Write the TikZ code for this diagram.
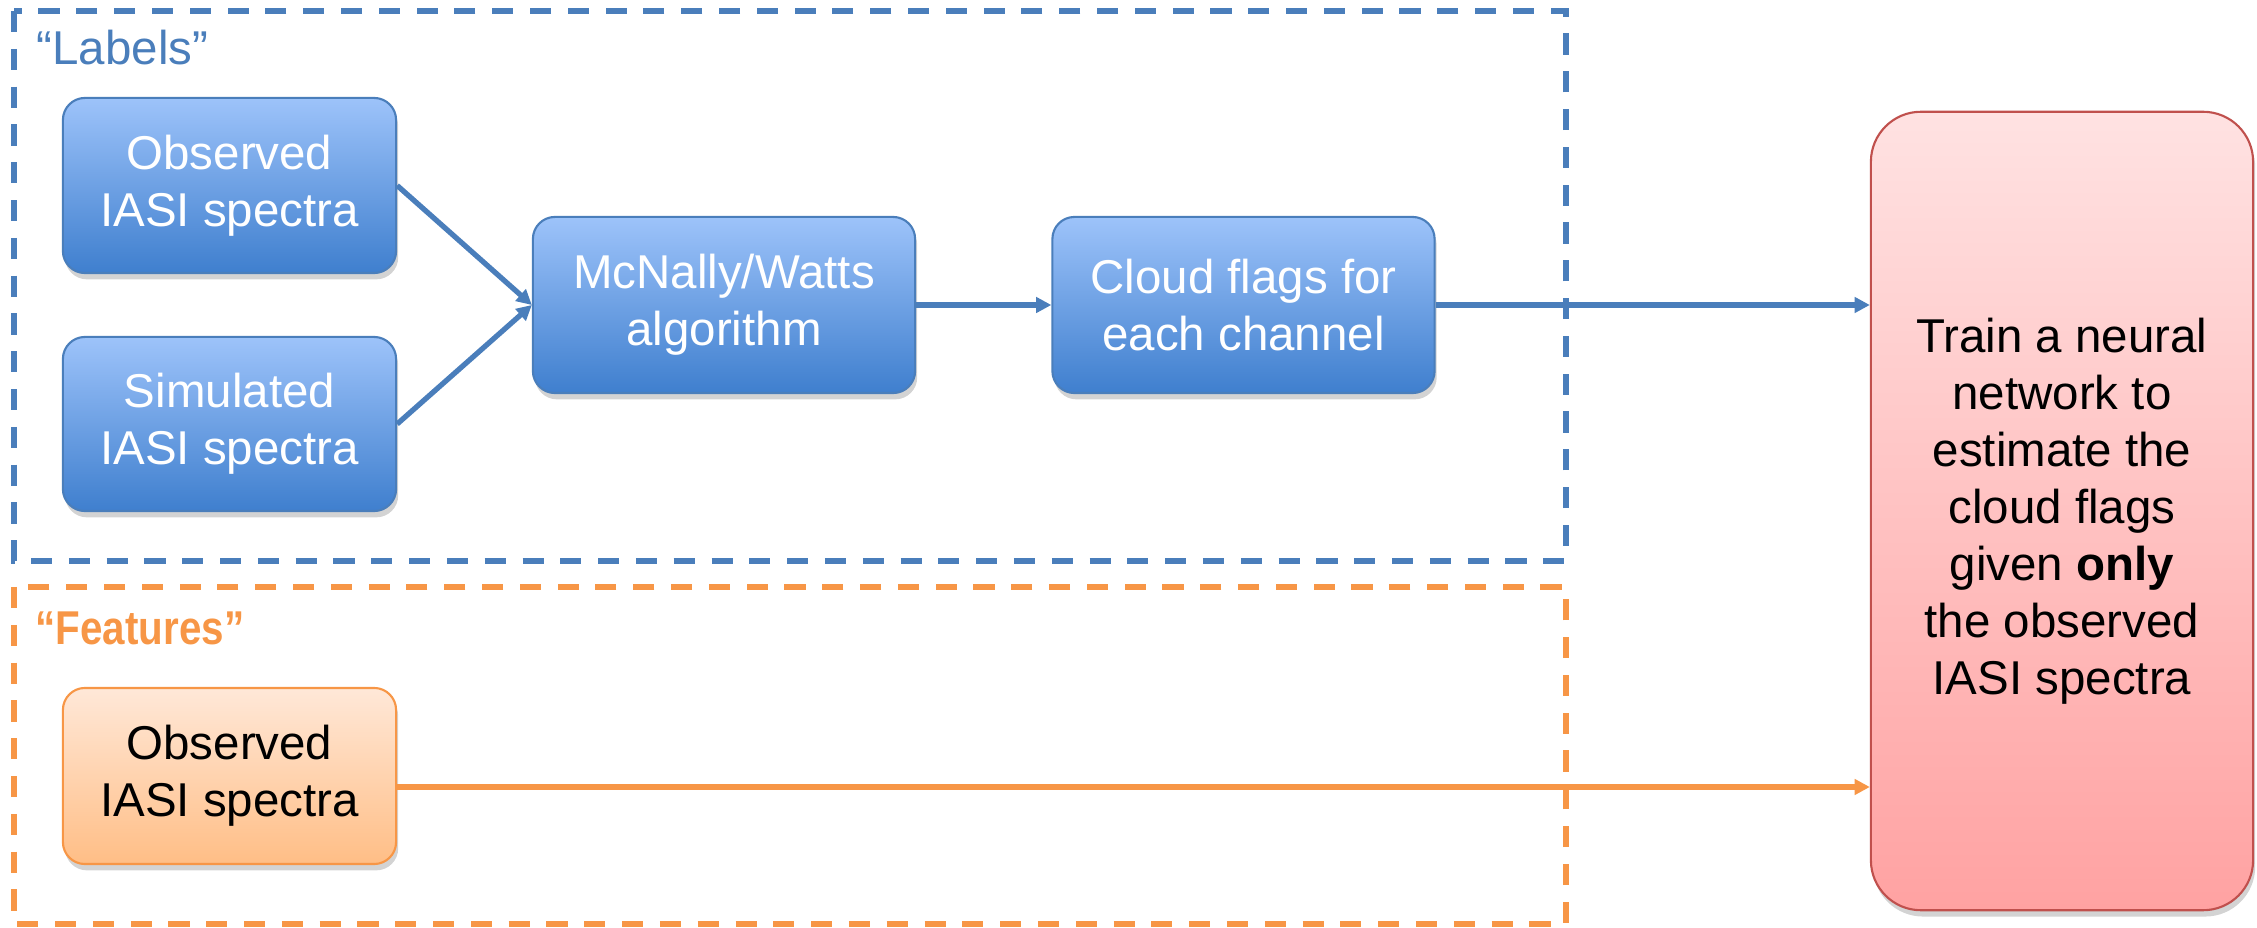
\documentclass[tikz,border=0pt]{standalone}
\usepackage{fontspec}
\setmainfont{Liberation Sans}
\usetikzlibrary{arrows.meta,shadows,calc}
\definecolor{bluetop}{HTML}{9DC3FA}
\definecolor{bluebot}{HTML}{3F7FCE}
\definecolor{blueline}{HTML}{4A7EBB}
\definecolor{orgline}{HTML}{F79646}
\definecolor{orgtop}{HTML}{FFE8D8}
\definecolor{orgbot}{HTML}{FFBE86}
\definecolor{redtop}{HTML}{FFE2E2}
\definecolor{redbot}{HTML}{FFA2A2}
\definecolor{redline}{HTML}{C0504D}
\begin{document}
\begin{tikzpicture}[x=0.01cm,y=-0.01cm,
  every node/.style={font=\fontsize{13.5}{16.2}\selectfont, align=center, inner sep=0pt},
  box/.style={rounded corners=0.22cm, line width=0.6pt,
    drop shadow={opacity=0.35,shadow xshift=0.6pt,shadow yshift=-1.8pt}},
  bluebox/.style={box, draw=blueline, top color=bluetop, bottom color=bluebot, text=white},
  orgbox/.style={box, draw=orgline, top color=orgtop, bottom color=orgbot, text=black},
  redbox/.style={box, rounded corners=0.5cm, draw=redline, top color=redtop, bottom color=redbot, text=black},
  grpframe/.style={line width=1.5pt, dash pattern=on 6pt off 4.75pt},
  barrow/.style={draw=blueline, line width=1.5pt, -{Triangle[length=4.3pt,width=4.3pt]}},
  oarrow/.style={draw=orgline, line width=1.5pt, -{Triangle[length=4.3pt,width=4.3pt]}},
]
\useasboundingbox (0,0) rectangle (2257,928);
% group frames
\draw[grpframe, blueline] (14,11) rectangle (1566,561);
\draw[grpframe, orgline] (14,587) rectangle (1566,924);
\node[anchor=base west, text=blueline] (lbl) at (36,65) {“Labels”};
\node[anchor=base west, text=orgline, font=\fontsize{13.5}{16.2}\selectfont\bfseries] (feat) at (35,645) {\scalebox{0.85}[1]{“Features”}};
% nodes
\node[bluebox, minimum width=3.33cm, minimum height=1.75cm] (obs) at (229.5,185.5) {Observed\\IASI spectra};
\node[bluebox, minimum width=3.33cm, minimum height=1.74cm] (sim) at (229.5,424) {Simulated\\IASI spectra};
\node[bluebox, minimum width=3.82cm, minimum height=1.76cm] (mcn) at (724,305) {McNally/Watts\\algorithm};
\node[bluebox, minimum width=3.82cm, minimum height=1.76cm] (cf) at (1243.5,305) {Cloud flags for\\each channel};
\node[orgbox, minimum width=3.33cm, minimum height=1.76cm] (oobs) at (229.5,776) {Observed\\IASI spectra};
\node[redbox, minimum width=3.82cm, minimum height=7.98cm] (red) at (2062,511) {Train a neural\\network to\\estimate the\\cloud flags\\given \textbf{only}\\the observed\\IASI spectra};
% connectors
\coordinate (oa) at (1871,787);
\draw[barrow] (obs.east) -- (mcn.west);
\draw[barrow] (sim.east) -- (mcn.west);
\draw[barrow] (mcn.east) -- (cf.west);
\draw[barrow] (cf.east) -- (cf.east -| red.west);
\draw[oarrow] (oobs.east |- oa) -- (red.west |- oa);
\end{tikzpicture}
\end{document}
